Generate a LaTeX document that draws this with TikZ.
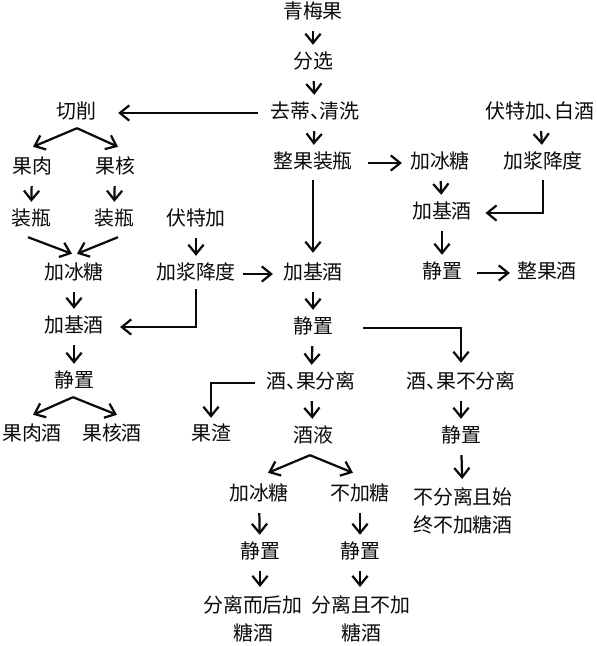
\documentclass[tikz,border=0pt]{standalone}
\usepackage{fontspec}
\usepackage{tikz}
\usetikzlibrary{arrows.meta, positioning, calc}
\newfontfamily\cjk{Noto Sans CJK SC}
\newcommand{\dun}{\makebox[0.5em][l]{、}}
\definecolor{mydark}{RGB}{10,10,10}
\tikzset{
  lbl/.style={font=\cjk\fontsize{17pt}{24pt}\selectfont, text=mydark,
    inner sep=0pt, text height=13.6pt, text depth=3.4pt},
  lbltwo/.style={font=\cjk\fontsize{17pt}{24pt}\selectfont, text=mydark,
    inner sep=0pt, align=center, anchor=north},
  arrow/.style={-{Straight Barb[length=8pt,width=13pt]}, line width=1.9pt,
    color=mydark, shorten <=0.24cm, shorten >=0.24cm},
  diag/.style={-{Straight Barb[length=8pt,width=13pt]}, line width=1.9pt,
    color=mydark}
}
\begin{document}
\begin{tikzpicture}[x=0.03cm, y=-0.03cm]
  \useasboundingbox (0,0) rectangle (597,646);

  % Main column
  \node[lbl] (qmg) at (313,13) {青梅果};
  \node[lbl] (fx) at (313,63) {分选};
  \node[lbl] (qd) at (315,113) {去蒂\dun 清洗};
  \node[lbl] (zgzp) at (313,163) {整果装瓶};
  \node[lbl] (jjj) at (313,274) {加基酒};
  \node[lbl] (jzc) at (313,328) {静置};
  \node[lbl] (jgfl) at (311,383) {酒\dun 果分离};
  \node[lbl] (jy) at (313,437) {酒液};

  % Left branch (cut fruit)
  \node[lbl] (qx) at (76,113) {切削};
  \node[lbl] (gr) at (32,168) {果肉};
  \node[lbl] (gh) at (115,168) {果核};
  \node[lbl] (zpa) at (31,220) {装瓶};
  \node[lbl] (zpb) at (114,220) {装瓶};
  \node[lbl] (jbta) at (74,274) {加冰糖};
  \node[lbl] (jjja) at (74,327) {加基酒};
  \node[lbl] (jza) at (74,382) {静置};
  \node[lbl] (grj) at (32,435) {果肉酒};
  \node[lbl] (ghj) at (112,435) {果核酒};
  \node[lbl] (ftj) at (196,220) {伏特加};
  \node[lbl] (jjjd) at (196,274) {加浆降度};
  \node[lbl] (gz) at (211,435) {果渣};

  % Right branch (whole fruit)
  \node[lbl] (ftb) at (540,113) {伏特加\dun 白酒};
  \node[lbl] (jjjdb) at (543,163) {加浆降度};
  \node[lbl] (jbtb) at (440,163) {加冰糖};
  \node[lbl] (jjjb) at (442,213) {加基酒};
  \node[lbl] (jzb) at (442,273) {静置};
  \node[lbl] (zgj) at (547,273) {整果酒};

  % Lower branches
  \node[lbl] (bfl) at (461,383) {酒\dun 果不分离};
  \node[lbl] (jzd) at (461,437) {静置};
  \node[lbltwo] (bfj) at (463,487) {不分离且始\\终不加糖酒};
  \node[lbl] (jbtc) at (259,495) {加冰糖};
  \node[lbl] (bjt) at (360,495) {不加糖};
  \node[lbl] (jze) at (260,553) {静置};
  \node[lbl] (jzf) at (360,553) {静置};
  \node[lbltwo] (flj) at (253,595) {分离而后加\\糖酒};
  \node[lbltwo] (bjj) at (361,595) {分离且不加\\糖酒};

  % Main column arrows
  \draw[arrow] (qmg) -- (fx);
  \draw[arrow] (fx) -- (qd);
  \draw[arrow] (qd) -- (zgzp);
  \draw[arrow, shorten <=0.2cm, shorten >=0.33cm] (zgzp) -- (jjj);
  \draw[arrow] (jjj) -- (jzc);
  \draw[arrow] (jzc) -- (jgfl);
  \draw[arrow] (jgfl) -- (jy);

  % Left branch arrows
  \draw[arrow, shorten <=0.36cm, shorten >=0.66cm] (qd) -- (qx);
  \draw[diag] ($(qx.south)+(1,5)$) -- ($(gr.north)+(1,-11)$);
  \draw[diag] ($(qx.south)+(1,5)$) -- ($(gh.north)+(3,-11)$);
  \draw[arrow] (gr) -- (zpa);
  \draw[arrow] (gh) -- (zpb);
  \draw[diag] ($(zpa.south)+(-3,7)$) -- ($(jbta.north)+(-2,-10)$);
  \draw[diag] ($(zpb.south)+(4,7)$) -- ($(jbta.north)+(3,-10)$);
  \draw[arrow] (jbta) -- (jjja);
  \draw[arrow] (jjja) -- (jza);
  \draw[diag] ($(jza.south)+(-1,5)$) -- ($(grj.north)+(1,-10)$);
  \draw[diag] ($(jza.south)+(-1,5)$) -- ($(ghj.north)+(5,-10)$);
  \draw[arrow] (ftj) -- (jjjd);
  \draw[arrow, shorten <=0.21cm, shorten >=0.3cm] (jjjd) -- (jjj);
  \draw[arrow, shorten <=0.15cm, shorten >=0.48cm] (jjjd) |- (jjja);

  % Right branch arrows
  \draw[arrow, shorten <=0.45cm, shorten >=0.24cm] (zgzp) -- (jbtb);
  \draw[arrow] (ftb) -- (jjjdb);
  \draw[arrow] (jbtb) -- (jjjb);
  \draw[arrow, shorten <=0.2cm, shorten >=0.4cm] (jjjdb) |- (jjjb);
  \draw[arrow] (jjjb) -- (jzb);
  \draw[arrow, shorten <=0.45cm, shorten >=0.21cm] (jzb) -- (zgj);

  % Separation arrows
  \draw[arrow, shorten <=0.9cm, shorten >=0.3cm] (jzc) -| (bfl);
  \draw[arrow, shorten <=0.33cm, shorten >=0.21cm] (jgfl) -| (gz);
  \draw[arrow] (bfl) -- (jzd);
  \draw[arrow] (jzd) -- (bfj);
  \draw[diag] ($(jy.south)+(-3,8)$) -- ($(jbtc.north)+(9,-12)$);
  \draw[diag] ($(jy.south)+(-3,8)$) -- ($(bjt.north)+(-7,-12)$);
  \draw[arrow] (jbtc) -- (jze);
  \draw[arrow] (bjt) -- (jzf);
  \draw[arrow] (jze) -- (jze |- flj.north);
  \draw[arrow] (jzf) -- (jzf |- bjj.north);
\end{tikzpicture}
\end{document}
